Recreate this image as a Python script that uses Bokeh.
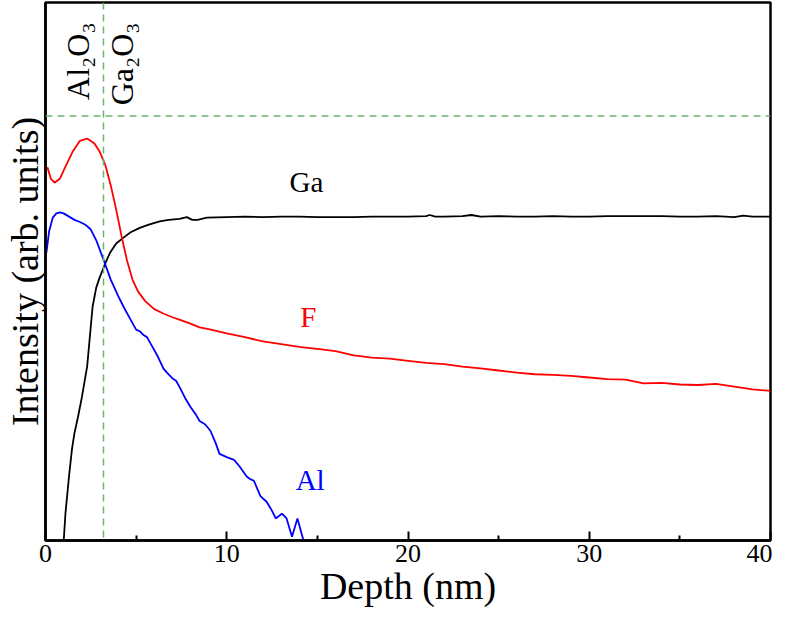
from bokeh.plotting import figure
from bokeh.models import Span, Label, FixedTicker, Range1d
from bokeh.embed import file_html
from bokeh.resources import INLINE

# ---- data ----
f_depth = [0.1, 0.3, 0.5, 0.8, 1.1, 1.5, 1.9, 2.3, 2.7, 3.0, 3.3, 3.6, 3.9, 4.2, 4.5, 4.8,
           5.1, 5.5, 6.0, 6.5, 7.0, 7.5, 8.0, 8.5, 9.0, 10, 11, 12, 13, 14, 15, 16, 17, 18,
           19, 20, 21, 22, 23, 24, 25, 26, 27, 28, 29, 30, 31, 32, 33, 34, 35, 36, 37, 38, 39, 40]
f_int = [69.4, 67.2, 66.5, 67.3, 69.5, 72.3, 74.3, 74.7, 73.8, 72.2, 69.8, 66.0, 61.5, 56.5,
         52.0, 48.5, 46.3, 44.5, 43.0, 42.2, 41.5, 40.9, 40.3, 39.6, 39.3, 38.5, 37.8, 37.0,
         36.5, 36.0, 35.6, 35.2, 34.4, 34.0, 33.8, 33.4, 33.0, 32.8, 32.3, 32.0, 31.6, 31.2,
         30.9, 30.8, 30.6, 30.3, 30.0, 29.9, 29.2, 29.3, 29.0, 28.9, 29.1, 28.6, 28.1, 27.8]

al_depth = [0.05, 0.2, 0.4, 0.6, 0.8, 1.0, 1.3, 1.6, 1.9, 2.2, 2.5, 2.8, 3.2, 3.6, 4.0, 4.3,
            4.7, 5.0, 5.2, 5.4, 5.6, 5.9, 6.2, 6.5, 6.7, 6.9, 7.05, 7.2, 7.4, 7.7, 8.0, 8.3,
            8.5, 8.8, 9.1, 9.4, 9.6, 10.0, 10.4, 10.7, 11.1, 11.3, 11.5, 11.7, 11.85, 12.0,
            12.2, 12.5, 12.7, 12.9, 13.05, 13.3, 13.6, 13.9, 14.2, 14.35]
al_int = [53.5, 57.5, 60.0, 60.8, 61.0, 60.8, 60.2, 59.6, 59.2, 58.7, 57.8, 55.8, 52.2, 48.5,
          45.5, 43.5, 41.0, 39.2, 38.9, 38.2, 37.8, 36.0, 34.2, 32.0, 31.2, 30.5, 30.0, 29.7,
          28.5, 26.5, 24.8, 23.4, 22.2, 21.6, 20.4, 18.0, 16.1, 15.5, 15.0, 13.8, 11.9, 11.4,
          11.1, 9.5, 8.3, 7.8, 7.2, 5.5, 4.1, 4.6, 5.0, 4.1, 0.7, 4.1, 0.4, -2.0]

ga_depth = [0.95, 1.1, 1.3, 1.46, 1.6, 1.8, 2.0, 2.3, 2.45, 2.6, 2.8, 3.0, 3.3, 3.56, 3.9, 4.3,
            4.7, 5.2, 5.7, 6.3, 6.8, 7.4, 7.8, 8.1, 8.4, 8.9, 10, 11, 12, 13, 14, 15, 16, 17,
            18, 19, 20, 21, 21.2, 21.5, 22, 23, 23.5, 24, 25, 26, 27, 28, 29, 30, 31, 32, 33,
            34, 35, 36, 37, 38, 38.5, 39, 40]
ga_int = [-3.0, 5.0, 12.0, 17.0, 20.0, 23.1, 26.5, 32.4, 38.0, 43.5, 47.0, 49.0, 51.5, 53.5,
          55.2, 56.3, 57.3, 58.1, 58.7, 59.3, 59.6, 59.8, 60.1, 59.6, 59.6, 60.0, 60.1, 60.2,
          60.1, 60.2, 60.2, 60.1, 60.1, 60.1, 60.2, 60.2, 60.2, 60.3, 60.5, 60.2, 60.2, 60.3,
          60.5, 60.2, 60.3, 60.2, 60.2, 60.3, 60.2, 60.2, 60.3, 60.3, 60.3, 60.3, 60.2, 60.2,
          60.3, 60.1, 60.4, 60.2, 60.2]

x_ticks = [0, 10, 20, 30, 40]
x_minor_ticks = [5, 15, 25, 35]
interface_depth = 3.2
ref_level = 78.9

FONT = "Liberation Serif"

p = figure(width=772, height=609, output_backend="svg", toolbar_location=None,
           x_range=Range1d(0, 40), y_range=Range1d(0, 100.0),
           min_border_left=0, min_border_right=2, min_border_top=2, min_border_bottom=0)

p.background_fill_color = "white"
p.border_fill_color = "white"
p.grid.visible = False
p.outline_line_color = "black"
p.outline_line_width = 2.5

xa = p.xaxis[0]
xa.ticker = FixedTicker(ticks=x_ticks, minor_ticks=x_minor_ticks)
xa.major_tick_in = 9
xa.major_tick_out = 0
xa.minor_tick_in = 5
xa.minor_tick_out = 0
xa.major_tick_line_width = 2
xa.minor_tick_line_width = 2
xa.axis_line_width = 2.5
xa.major_label_text_font = FONT
xa.major_label_text_font_size = "26px"
xa.major_label_text_color = "black"
xa.major_label_standoff = 4
xa.axis_label = "Depth (nm)"
xa.axis_label_text_font = FONT
xa.axis_label_text_font_size = "38px"
xa.axis_label_text_font_style = "normal"
xa.axis_label_text_color = "black"
xa.axis_label_standoff = 0

ya = p.yaxis[0]
ya.ticker = FixedTicker(ticks=[])
ya.major_tick_line_color = None
ya.minor_tick_line_color = None
ya.axis_line_width = 2.5
ya.axis_label = "Intensity (arb. units)"
ya.axis_label_text_font = FONT
ya.axis_label_text_font_size = "38px"
ya.axis_label_text_font_style = "normal"
ya.axis_label_text_color = "black"
ya.axis_label_standoff = 0

green = "#6cb46c"
p.add_layout(Span(location=interface_depth, dimension="height", line_color=green,
                  line_width=1.5, line_dash="7 5"))
p.add_layout(Span(location=ref_level, dimension="width", line_color=green,
                  line_width=1.5, line_dash="7 5"))

p.line(ga_depth, ga_int, line_color="black", line_width=1.8)
p.line(f_depth, f_int, line_color="#ff0000", line_width=1.8)
p.line(al_depth, al_int, line_color="#0000ff", line_width=1.8)

p.add_layout(Label(x=14.4, y=66.7, text="Ga", text_color="black", text_font=FONT,
                   text_font_size="29px", text_align="center", text_baseline="middle"))
p.add_layout(Label(x=14.5, y=41.5, text="F", text_color="#ff0000", text_font=FONT,
                   text_font_size="29px", text_align="center", text_baseline="middle"))
p.add_layout(Label(x=14.6, y=11.3, text="Al", text_color="#0000ff", text_font=FONT,
                   text_font_size="29px", text_align="center", text_baseline="middle"))

p.add_layout(Label(x=1.8, y=81.9, text="Al₂O₃", angle=1.5708, text_font=FONT,
                   text_color="black", text_font_size="32px", text_align="left",
                   text_baseline="middle"))
p.add_layout(Label(x=4.2, y=80.9, text="Ga₂O₃", angle=1.5708, text_font=FONT,
                   text_color="black", text_font_size="32px", text_align="left",
                   text_baseline="middle"))

open("out.html", "w").write(file_html(p, INLINE))
